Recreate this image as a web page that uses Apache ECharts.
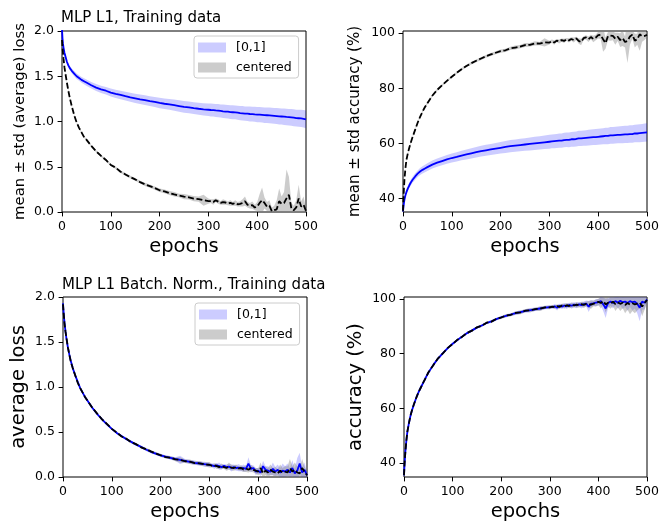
<!DOCTYPE html>
<html>
<head>
<meta charset="utf-8">
<script src="https://cdn.jsdelivr.net/npm/echarts@6/dist/echarts.min.js"></script>
<style>html,body{margin:0;padding:0;background:#fff;}#c{width:663px;height:523px;}</style>
</head>
<body>
<div id="c"></div>
<script>
const epochs = [0,1,2,3,5,7,10,13,16,20,25,30,35,40,45,50,60,70,80,90,100,110,120,130,140,150,160,170,180,190,200,210,220,230,240,250,260,270,280,290,300,
305,310,315,320,325,330,335,340,345,350,355,360,365,370,375,380,385,390,395,400,405,410,415,420,425,430,435,440,445,450,455,460,465,470,475,480,485,490,495,500];

// ---- MLP L1, Training data : loss ----
const l1LossMean01 = [2.02,1.92,1.86,1.82,1.76,1.72,1.66,1.62,1.59,1.56, 1.53,1.50,1.48,1.46,1.445,1.43,
1.40,1.375,1.355,1.34,1.32,1.306,1.294,1.28,1.267,1.256,1.245,1.236,1.225,1.216,1.205,1.196,1.189,1.18,1.171,1.162,1.156,1.148,1.141,1.135,1.13,
1.127,1.125,1.122,1.12,1.117,1.113,1.11,1.108,1.104,1.102, 1.1,1.097,1.092,1.09,1.088,1.086,1.083,1.082,1.079,1.077,
1.076,1.073,1.07,1.069,1.067,1.065,1.063,1.06,1.057,1.055, 1.053,1.05,1.048,1.045,1.042,1.038,1.036,1.034,1.03,1.024];
const l1LossStd01 = [0.01,0.012,0.014,0.015,0.017,0.019,0.021,0.023,0.025,0.027, 0.029,0.03,0.031,0.032,0.033,0.034,
0.036,0.038,0.04,0.042,0.044,0.045,0.047,0.048,0.05,0.051,0.052,0.054,0.055,0.056,0.058,0.059,0.06,0.062,0.063,0.064,0.065,0.066,0.067,0.068,0.07,
0.071,0.07,0.072,0.073,0.072,0.074,0.075,0.074,0.076,0.077, 0.076,0.078,0.079,0.08,0.079,0.081,0.082,0.081,0.083,0.084,
0.083,0.085,0.086,0.085,0.087,0.088,0.087,0.089,0.09,0.089, 0.091,0.092,0.091,0.093,0.094,0.093,0.095,0.096,0.097,0.098];
const l1LossMeanC = [1.9,1.82,1.76,1.7,1.6,1.53,1.43,1.34,1.26,1.17, 1.07,0.99,0.93,0.88,0.83,0.8,
0.73,0.67,0.62,0.575,0.52,0.49,0.445,0.415,0.385,0.36,0.33,0.305,0.285,0.265,0.24,0.228,0.21,0.195,0.182,0.17,0.162,0.148,0.142,0.13,0.12,
0.12,0.11,0.13,0.115,0.1,0.11,0.105,0.095,0.1,0.09, 0.1,0.085,0.09,0.1,0.12,0.08,0.07,0.075,0.05,0.06,
0.1,0.13,0.1,0.06,0.07,0.01,0.02,0.03,0.12,0.09, 0.1,0.15,0.19,0.04,0.02,0.05,0.15,0.06,0.08,0.01];
const l1LossStdC = [0.01,0.01,0.01,0.01,0.01,0.01,0.01,0.01,0.01,0.01, 0.01,0.01,0.01,0.01,0.01,0.01,
0.01,0.012,0.012,0.013,0.013,0.014,0.014,0.015,0.015,0.016,0.016,0.017,0.018,0.018,0.02,0.02,0.022,0.025,0.02,0.03,0.025,0.03,0.028,0.06,0.03,
0.02,0.03,0.02,0.025,0.02,0.03,0.025,0.02,0.03,0.02, 0.03,0.025,0.03,0.04,0.05,0.03,0.03,0.04,0.03,0.05,
0.1,0.14,0.06,0.05,0.06,0.04,0.05,0.1,0.14,0.08, 0.12,0.32,0.2,0.06,0.05,0.08,0.15,0.06,0.09,0.03];

// ---- MLP L1, Training data : accuracy ----
const l1AccMean01 = [35.3,37.0,38.5,39.6,41.2,42.3,43.7,44.8,45.8,46.9, 48.0,49.0,49.8,50.4,50.9,51.4,
52.3,53.0,53.6,54.2,54.7,55.1,55.6,56.0,56.4,56.8,57.2,57.5,57.8,58.1,58.4,58.7,59.0,59.2,59.4,59.6,59.8,60.0,60.2,60.4,60.6,
60.7,60.8,60.9,61.0,61.0,61.2,61.3,61.3,61.5,61.5, 61.6,61.8,61.8,61.9,62.0,62.1,62.2,62.3,62.3,62.4,
62.5,62.6,62.7,62.7,62.9,62.9,63.0,63.1,63.1,63.2, 63.3,63.3,63.4,63.4,63.6,63.6,63.7,63.8,63.9,64.0];
const l1AccStd01 = [0.3,0.4,0.5,0.6,0.7,0.8,0.9,1.0,1.05,1.1, 1.15,1.2,1.25,1.3,1.35,1.4,
1.45,1.5,1.55,1.6,1.65,1.7,1.75,1.8,1.85,1.9,1.95,2.0,2.0,2.05,2.1,2.15,2.2,2.2,2.25,2.3,2.35,2.4,2.4,2.45,2.5,
2.5,2.53,2.54,2.58,2.59,2.63,2.62,2.67,2.68,2.72, 2.71,2.75,2.77,2.78,2.81,2.82,2.85,2.86,2.89,2.9,
2.93,2.94,2.97,2.98,3.01,3.02,3.05,3.06,3.09,3.1, 3.13,3.14,3.17,3.18,3.21,3.22,3.25,3.26,3.28,3.3];
const l1AccMeanC = [35.5,40,44,47,51,54,56.5,58.5,60.3,62.5, 65,67.5,69.6,71.5,73.2,74.6,
77.3,79.4,81.1,82.7,84.2,85.6,86.9,88.1,89.1,90.0,90.8,91.6,92.3,92.9,93.5,93.8,94.5,94.8,95.1,95.7,95.8,96.3,96.2,96.7,96.6,
97.1,96.6,97.3,97.0,97.5,97.2,97.8,97.4,97.9,97.5, 98.1,97.2,96.8,98.2,98.5,97.8,98.6,97.9,98.4,99.3,
99.4,97.8,96.4,98.9,99.1,99.0,98.0,98.7,97.5,98.2, 96.8,97.2,98.8,99.5,97.3,97.8,99.6,98.9,99.0,99.4];
const l1AccStdC = [0.1,0.2,0.3,0.35,0.4,0.4,0.4,0.4,0.4,0.4, 0.4,0.4,0.4,0.4,0.4,0.4,
0.4,0.4,0.4,0.4,0.4,0.45,0.45,0.45,0.5,0.5,0.5,0.5,0.55,0.55,0.6,0.6,0.6,0.7,0.6,0.7,0.6,0.8,0.6,1.5,0.7,
0.6,0.8,0.5,0.7,0.6,0.8,0.5,0.8,0.6,0.9, 0.6,1.0,1.2,0.7,0.8,1.0,0.8,1.2,1.0,1.2,
1.5,4.5,2.0,1.5,1.8,1.6,2.2,1.5,2.5,2.8, 2.0,8.0,3.0,1.5,2.5,2.0,6.0,2.0,1.5,1.0];

// ---- MLP L1 Batch. Norm., Training data : loss ----
const bnLossMean01 = [1.93,1.85,1.78,1.72,1.62,1.54,1.44,1.36,1.29,1.21, 1.13,1.06,0.99,0.94,0.89,0.85,
0.77,0.70,0.64,0.585,0.535,0.49,0.455,0.42,0.39,0.36,0.335,0.305,0.28,0.26,0.24,0.226,0.213,0.2,0.19,0.18,0.168,0.158,0.15,0.142,0.135,
0.13,0.12,0.13,0.12,0.11,0.125,0.11,0.115,0.1,0.11, 0.1,0.105,0.095,0.1,0.09,0.15,0.09,0.1,0.06,0.07,
0.05,0.12,0.08,0.07,0.06,0.09,0.06,0.08,0.05,0.07, 0.06,0.08,0.05,0.1,0.04,0.07,0.15,0.05,0.08,0.02];
const bnLossStd01 = [0.005,0.005,0.005,0.005,0.005,0.006,0.006,0.006,0.007,0.007, 0.007,0.008,0.008,0.008,0.009,0.009,
0.01,0.01,0.01,0.011,0.011,0.012,0.012,0.013,0.013,0.014,0.014,0.015,0.015,0.016,0.016,0.017,0.018,0.02,0.045,0.02,0.022,0.025,0.02,0.028,0.022,
0.02,0.03,0.02,0.04,0.03,0.02,0.03,0.03,0.04,0.03, 0.03,0.04,0.03,0.04,0.03,0.07,0.04,0.03,0.04,0.03,
0.04,0.06,0.04,0.05,0.04,0.07,0.05,0.06,0.05,0.08, 0.06,0.07,0.05,0.09,0.05,0.14,0.12,0.06,0.08,0.03];
const bnLossMeanC = [1.92,1.84,1.78,1.71,1.62,1.55,1.44,1.36,1.28,1.21, 1.13,1.05,0.99,0.94,0.89,0.85,
0.77,0.705,0.64,0.59,0.535,0.495,0.45,0.425,0.385,0.365,0.33,0.31,0.285,0.262,0.242,0.222,0.215,0.196,0.19,0.175,0.17,0.155,0.152,0.14,0.136,
0.125,0.13,0.12,0.11,0.12,0.11,0.1,0.12,0.105,0.1, 0.11,0.095,0.1,0.085,0.095,0.08,0.1,0.08,0.07,0.06,
0.1,0.04,0.07,0.05,0.08,0.06,0.05,0.04,0.07,0.05, 0.06,0.05,0.1,0.06,0.08,0.05,0.04,0.1,0.06,0.02];
const bnLossStdC = [0.005,0.005,0.005,0.005,0.005,0.006,0.006,0.006,0.007,0.007, 0.007,0.008,0.008,0.008,0.009,0.009,
0.01,0.01,0.01,0.011,0.011,0.012,0.012,0.013,0.013,0.014,0.014,0.015,0.015,0.016,0.016,0.017,0.018,0.02,0.03,0.02,0.025,0.02,0.025,0.02,0.03,
0.02,0.02,0.03,0.02,0.03,0.02,0.03,0.04,0.03,0.03, 0.03,0.02,0.03,0.03,0.04,0.03,0.04,0.03,0.03,0.04,
0.06,0.04,0.05,0.05,0.06,0.04,0.06,0.05,0.07,0.05, 0.06,0.07,0.1,0.06,0.08,0.07,0.06,0.1,0.06,0.03];

// ---- MLP L1 Batch. Norm., Training data : accuracy ----
const bnAccMean01 = [35.5,39,42,44.5,48.5,51.5,54.5,57,59,61.2, 63.8,65.9,67.8,69.5,71.3,73.0,
75.8,78.2,80.2,82.0,83.6,85.0,86.3,87.5,88.5,89.5,90.3,91.2,91.8,92.6,93.3,93.8,94.3,94.8,95.2,95.6,95.9,96.2,96.5,96.8,97.0,
97.0,97.3,96.8,97.5,97.2,97.6,97.3,97.8,97.5,97.9, 97.6,98.0,97.7,98.1,98.3,97.2,98.3,98.4,98.6,98.8,
99.2,98.0,96.5,98.5,99.0,98.5,99.2,98.6,99.3,98.8, 99.0,98.5,99.2,98.8,99.0,98.2,96.8,99.0,98.6,99.8];
const bnAccStd01 = [0.1,0.2,0.25,0.3,0.3,0.3,0.3,0.3,0.3,0.3, 0.3,0.3,0.3,0.3,0.3,0.3,
0.3,0.3,0.3,0.3,0.3,0.35,0.35,0.35,0.4,0.4,0.4,0.4,0.45,0.45,0.5,0.5,0.5,0.7,0.6,0.6,0.8,0.6,0.7,0.6,0.7,
0.6,0.8,1.0,0.7,0.9,0.8,1.0,0.8,1.1,0.9, 1.0,0.9,1.2,1.0,1.1,2.0,1.2,1.0,1.3,1.2,
1.5,2.5,3.5,1.8,1.5,2.0,1.6,2.2,1.8,2.5, 2.0,2.8,2.2,3.0,2.5,3.5,5.0,3.0,2.5,1.0];
const bnAccMeanC = [35.6,39.2,42.1,44.6,48.4,51.6,54.4,57.1,59.0,61.3, 63.7,66.0,67.7,69.6,71.2,73.1,
75.7,78.3,80.1,82.1,83.5,85.1,86.2,87.6,88.4,89.6,90.2,91.3,91.7,92.7,93.2,93.9,94.2,94.9,95.1,95.7,95.8,96.3,96.4,96.9,96.9,
97.2,97.0,97.4,97.1,97.6,97.3,97.7,97.4,97.8,97.6, 97.9,97.7,98.1,97.8,98.2,98.0,97.9,98.3,98.5,98.9,
98.5,99.2,98.0,98.6,98.4,99.0,98.1,98.7,98.2,98.6, 97.8,98.5,97.9,98.4,98.0,98.3,98.6,97.2,98.5,99.6];
const bnAccStdC = [0.1,0.2,0.25,0.3,0.3,0.3,0.3,0.3,0.3,0.3, 0.3,0.3,0.3,0.3,0.3,0.3,
0.3,0.3,0.3,0.3,0.35,0.35,0.35,0.4,0.4,0.4,0.45,0.4,0.5,0.45,0.5,0.6,0.5,0.6,0.7,0.6,0.7,0.6,0.8,0.6,0.7,
0.5,0.7,0.6,0.8,0.6,0.9,0.7,0.8,0.9,0.7, 1.0,0.8,0.9,1.1,0.9,1.2,1.5,1.0,1.3,1.2,
2.0,1.5,3.0,1.5,2.0,1.6,2.5,1.8,2.6,2.0, 3.0,2.5,3.5,2.8,3.2,2.5,2.0,3.5,2.5,1.0];

const titles = ['MLP L1, Training data', 'MLP L1 Batch. Norm., Training data'];
const legendNames = ['[0,1]', 'centered'];
const xTicks = [0,100,200,300,400,500];
const lossTicks = [0,0.5,1.0,1.5,2.0];
const accTicks = [40,60,80,100];

// sanity check
[l1LossMean01,l1LossStd01,l1LossMeanC,l1LossStdC,l1AccMean01,l1AccStd01,l1AccMeanC,l1AccStdC,
 bnLossMean01,bnLossStd01,bnLossMeanC,bnLossStdC,bnAccMean01,bnAccStd01,bnAccMeanC,bnAccStdC].forEach((a,i)=>{
  if (a.length !== epochs.length) throw new Error('length mismatch in array ' + i + ': ' + a.length);
});

const FONT = 'DejaVu Sans';
const BLUE = '#0000ff';
const BLUE_BAND = 'rgba(0,0,255,0.2)';
const GRAY_BAND = 'rgba(128,128,128,0.4)';

const chart = echarts.init(document.getElementById('c'), null, {renderer: 'canvas'});

const grids = [
  {left: 62, top: 31, width: 244, height: 181},
  {left: 403, top: 31, width: 244, height: 181},
  {left: 63, top: 297, width: 244, height: 181},
  {left: 404, top: 297, width: 243, height: 181}
].map(g => Object.assign({show: true, borderColor: '#000', borderWidth: 1, backgroundColor: 'transparent', containLabel: false}, g));

function xAxisFor(i) {
  return {
    type: 'value', gridIndex: i, min: 0, max: 500, interval: 100,
    name: 'epochs', nameLocation: 'middle', nameGap: 25,
    nameTextStyle: {fontFamily: FONT, fontSize: 19.5, color: '#000'},
    axisLine: {show: false, onZero: false},
    axisTick: {show: true, length: 4.4, lineStyle: {color: '#000', width: 1}},
    axisLabel: {fontFamily: FONT, fontSize: 12.5, color: '#000', margin: 8, customValues: xTicks},
    splitLine: {show: false}
  };
}
function yAxisFor(i, name, nameSize, nameGap, min, max, ticks, fmt) {
  return {
    type: 'value', gridIndex: i, min: min, max: max,
    name: name, nameLocation: 'middle', nameGap: nameGap,
    nameTextStyle: {fontFamily: FONT, fontSize: nameSize, color: '#000'},
    axisLine: {show: false, onZero: false},
    axisTick: {show: true, length: 4.4, lineStyle: {color: '#000', width: 1}, customValues: ticks},
    axisLabel: {fontFamily: FONT, fontSize: 12.5, color: '#000', margin: 8, customValues: ticks, formatter: fmt},
    splitLine: {show: false}
  };
}

function band(i, name, mean, std, color) {
  const lo = mean.map((m, k) => m - std[k]);
  const hi = mean.map((m, k) => m + std[k]);
  return {
    type: 'custom', name: name, xAxisIndex: i, yAxisIndex: i, silent: true, z: 1,
    itemStyle: {color: color},
    encode: {x: 0, y: [1, 2]},
    data: epochs.map((e, k) => [e, lo[k], hi[k]]),
    renderItem: function (params, api) {
      if (params.dataIndex !== 0) return null;
      const pts = [];
      for (let k = 0; k < epochs.length; k++) pts.push(api.coord([epochs[k], hi[k]]));
      for (let k = epochs.length - 1; k >= 0; k--) pts.push(api.coord([epochs[k], lo[k]]));
      const cs = params.coordSys;
      return {
        type: 'polygon', shape: {points: pts}, style: {fill: color, stroke: null},
        clipPath: {type: 'rect', shape: {x: cs.x, y: cs.y, width: cs.width, height: cs.height}}
      };
    }
  };
}
function line(i, mean, color, dashed) {
  return {
    type: 'line', xAxisIndex: i, yAxisIndex: i, silent: true, symbol: 'none', clip: true, z: dashed ? 4 : 3,
    data: epochs.map((e, k) => [e, mean[k]]),
    lineStyle: {color: color, width: 1.8, type: dashed ? [6, 2.6] : 'solid'},
    itemStyle: {color: color},
    animation: false
  };
}

function legendAt(left, top) {
  return {
    orient: 'vertical', left: left, top: top, padding: [5, 7, 4, 4],
    itemWidth: 28, itemHeight: 10, itemGap: 7,
    borderColor: '#cccccc', borderWidth: 1, borderRadius: 3, backgroundColor: 'rgba(255,255,255,0.8)',
    selectedMode: false,
    textStyle: {fontFamily: FONT, fontSize: 12.5, color: '#000', padding: [0, 0, 0, 5]},
    data: [
      {name: legendNames[0], icon: 'rect', itemStyle: {color: BLUE_BAND, borderWidth: 0, opacity: 1}},
      {name: legendNames[1], icon: 'rect', itemStyle: {color: GRAY_BAND, borderWidth: 0, opacity: 1}}
    ]
  };
}

const fmt1 = v => v.toFixed(1);
const fmt0 = v => String(v);

const option = {
  animation: false,
  backgroundColor: '#fff',
  title: [
    {text: titles[0], left: 61, top: 11, padding: 0, textStyle: {fontFamily: FONT, fontSize: 15, fontWeight: 'normal', color: '#000'}},
    {text: titles[1], left: 62, top: 278, padding: 0, textStyle: {fontFamily: FONT, fontSize: 15, fontWeight: 'normal', color: '#000'}}
  ],
  legend: [legendAt(194, 36), legendAt(195, 303)],
  grid: grids,
  xAxis: [xAxisFor(0), xAxisFor(1), xAxisFor(2), xAxisFor(3)],
  yAxis: [
    yAxisFor(0, 'mean \u00b1 std (average) loss', 14.8, 34, 0, 2, lossTicks, fmt1),
    yAxisFor(1, 'mean \u00b1 std accuracy (%)', 15, 40, 35.1, 100.8, accTicks, fmt0),
    yAxisFor(2, 'average loss', 19.5, 34, 0, 2, lossTicks, fmt1),
    yAxisFor(3, 'accuracy (%)', 19.5, 38, 34.9, 100.7, accTicks, fmt0)
  ],
  series: [
    band(0, legendNames[0], l1LossMean01, l1LossStd01, BLUE_BAND),
    band(0, legendNames[1], l1LossMeanC, l1LossStdC, GRAY_BAND),
    line(0, l1LossMean01, BLUE, false),
    line(0, l1LossMeanC, '#000', true),

    band(1, legendNames[0], l1AccMean01, l1AccStd01, BLUE_BAND),
    band(1, legendNames[1], l1AccMeanC, l1AccStdC, GRAY_BAND),
    line(1, l1AccMean01, BLUE, false),
    line(1, l1AccMeanC, '#000', true),

    band(2, legendNames[0], bnLossMean01, bnLossStd01, BLUE_BAND),
    band(2, legendNames[1], bnLossMeanC, bnLossStdC, GRAY_BAND),
    line(2, bnLossMean01, BLUE, false),
    line(2, bnLossMeanC, '#000', true),

    band(3, legendNames[0], bnAccMean01, bnAccStd01, BLUE_BAND),
    band(3, legendNames[1], bnAccMeanC, bnAccStdC, GRAY_BAND),
    line(3, bnAccMean01, BLUE, false),
    line(3, bnAccMeanC, '#000', true)
  ]
};
chart.setOption(option);
</script>
</body>
</html>
